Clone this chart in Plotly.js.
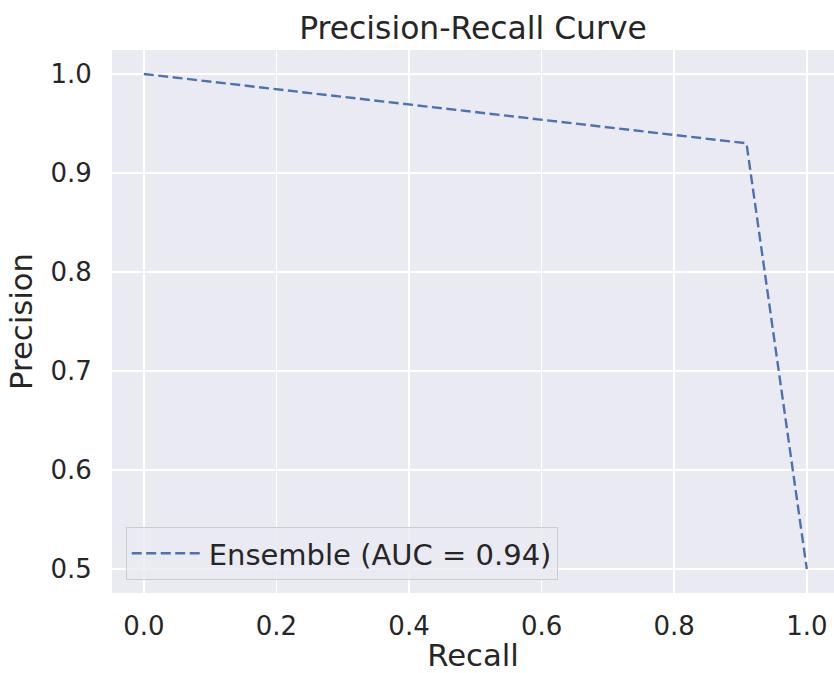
<!DOCTYPE html>
<html>
<head>
<meta charset="utf-8">
<script src="https://cdn.plot.ly/plotly-3.0.1.min.js"></script>
<style>html,body{margin:0;padding:0;background:#fff;}#chart{width:834px;height:673px;}</style>
</head>
<body>
<div id="chart"></div>
<script>
const recall = [0.0, 0.909, 1.0];
const precision = [1.0, 0.930, 0.5];
const seriesName = "Ensemble (AUC = 0.94)";
const xTicks = [0.0, 0.2, 0.4, 0.6, 0.8, 1.0];
const xTickLabels = ["0.0", "0.2", "0.4", "0.6", "0.8", "1.0"];
const yTicks = [0.5, 0.6, 0.7, 0.8, 0.9, 1.0];
const yTickLabels = ["0.5", "0.6", "0.7", "0.8", "0.9", "1.0"];

const textColor = "#262626";
const font = "DejaVu Sans, sans-serif";

const data = [{
  x: recall, y: precision, type: "scatter", mode: "lines", name: seriesName,
  line: {color: "#4C72B0", width: 2.4, dash: "10px,4.5px"}
}];

const layout = {
  width: 834, height: 673,
  margin: {l: 112, r: 0, t: 50, b: 80},
  paper_bgcolor: "#ffffff", plot_bgcolor: "#EAEAF2",
  font: {family: font, color: textColor, size: 26},
  title: {text: "Precision-Recall Curve", font: {size: 31.4, color: textColor, family: font},
          x: 0.5, xref: "paper", xanchor: "center", y: 1 - 28/673, yref: "container", yanchor: "middle"},
  xaxis: {
    range: [-0.048, 1.041], tickvals: xTicks, ticktext: xTickLabels,
    showgrid: true, gridcolor: "#ffffff", gridwidth: 1.6, zeroline: false, showline: false,
    ticks: "outside", ticklen: 10, tickcolor: "rgba(0,0,0,0)",
    tickfont: {size: 26, color: textColor, family: font},
    title: {text: "Recall", font: {size: 30.7, color: textColor, family: font}, standoff: 4},
    automargin: false
  },
  yaxis: {
    range: [0.4758, 1.0242], tickvals: yTicks, ticktext: yTickLabels,
    showgrid: true, gridcolor: "#ffffff", gridwidth: 1.6, zeroline: false, showline: false,
    ticks: "outside", ticklen: 14, tickcolor: "rgba(0,0,0,0)",
    tickfont: {size: 26, color: textColor, family: font},
    title: {text: "Precision", font: {size: 30.7, color: textColor, family: font}, standoff: 8},
    automargin: false
  },
  showlegend: true,
  legend: {
    x: 0.019, y: 0.024, xanchor: "left", yanchor: "bottom",
    bgcolor: "rgba(234,234,242,0.8)", bordercolor: "#cccccc", borderwidth: 1,
    itemwidth: 72,
    font: {size: 29, color: textColor, family: font}
  }
};

Plotly.newPlot("chart", data, layout, {displayModeBar: false, staticPlot: true});
</script>
</body>
</html>
